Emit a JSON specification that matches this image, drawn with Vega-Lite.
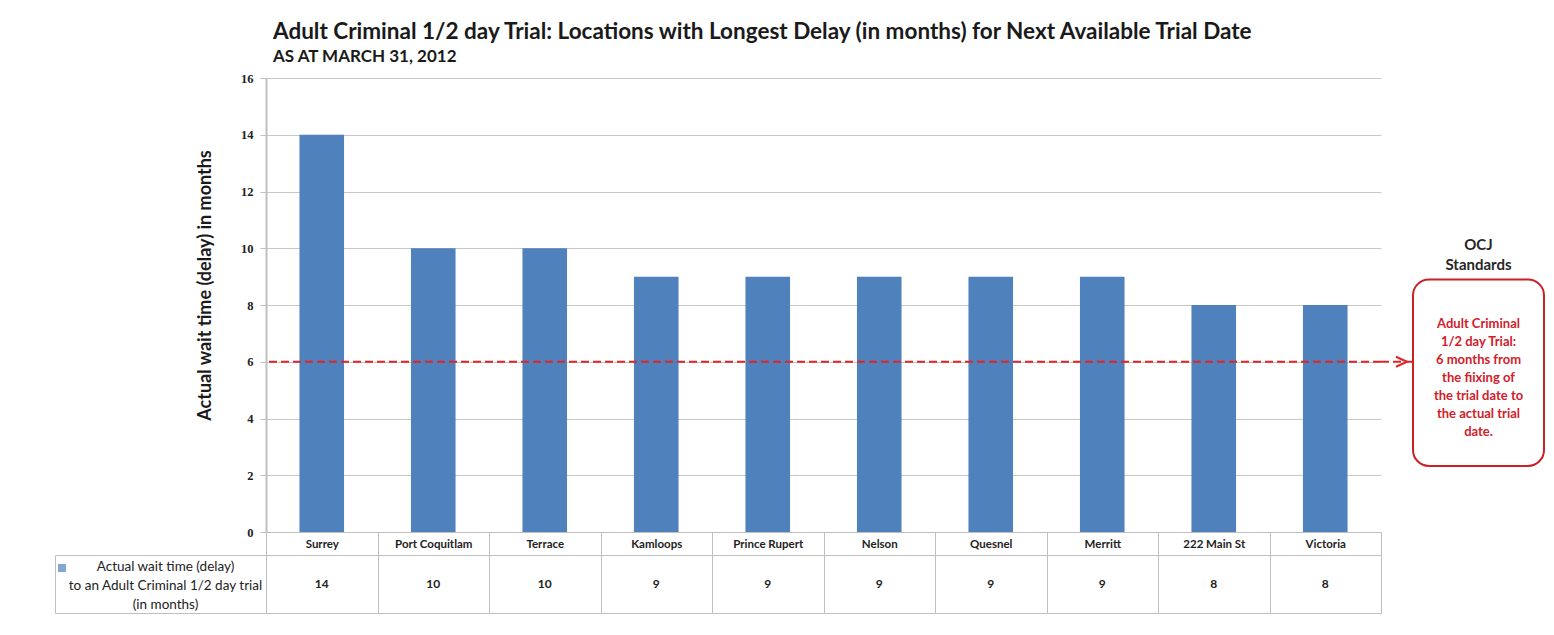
{
  "$schema": "https://vega.github.io/schema/vega-lite/v6.json",
  "padding": {"left": 54, "top": 20, "right": 5, "bottom": 5},
  "background": "white",
  "columns": 4,
  "spacing": {"row": 23, "column": 0},
  "bounds": "flush",
  "resolve": {
    "scale": {"x": "independent", "y": "independent", "color": "independent"},
    "legend": {"color": "independent"}
  },
  "config": {
    "font": "Lato",
    "view": {"stroke": null}
  },
  "datasets": {
    "delays": [
      {"location": "Surrey", "months": 14},
      {"location": "Port Coquitlam", "months": 10},
      {"location": "Terrace", "months": 10},
      {"location": "Kamloops", "months": 9},
      {"location": "Prince Rupert", "months": 9},
      {"location": "Nelson", "months": 9},
      {"location": "Quesnel", "months": 9},
      {"location": "Merritt", "months": 9},
      {"location": "222 Main St", "months": 8},
      {"location": "Victoria", "months": 8}
    ]
  },
  "concat": [
    {
      "width": 211,
      "height": 454,
      "data": {"values": []},
      "mark": "point",
      "encoding": {}
    },
    {
      "width": 1115,
      "height": 454,
      "title": {
        "text": "Adult Criminal 1/2 day Trial: Locations with Longest Delay (in months) for Next Available Trial Date",
        "subtitle": "AS AT MARCH 31, 2012",
        "anchor": "start",
        "frame": "group",
        "dx": 7,
        "font": "Lato",
        "fontSize": 22.5,
        "fontWeight": "bold",
        "color": "#1a1a1a",
        "subtitleFont": "Lato",
        "subtitleFontSize": 17,
        "subtitleFontWeight": "bold",
        "subtitleColor": "#1a1a1a",
        "subtitlePadding": 6,
        "offset": 7
      },
      "layer": [
        {
          "data": {"name": "delays"},
          "mark": {"type": "bar", "color": "#4F81BD", "width": {"band": 0.4}},
          "encoding": {
            "x": {
              "field": "location",
              "type": "nominal",
              "sort": null,
              "scale": {"paddingInner": 0, "paddingOuter": 0},
              "axis": {
                "title": null,
                "labelAngle": 0,
                "domainColor": "#BFBFBF",
                "domainWidth": 1,
                "tickBand": "extent",
                "tickSize": 23,
                "tickColor": "#BFBFBF",
                "labelBaseline": "middle",
                "labelPadding": -11,
                "labelFont": "Lato",
                "labelFontSize": 11.5,
                "labelFontWeight": "bold",
                "labelColor": "#222222",
                "grid": false
              }
            },
            "y": {
              "field": "months",
              "type": "quantitative",
              "scale": {"domain": [0, 16], "nice": false},
              "axis": {
                "title": "Actual wait time (delay) in months",
                "values": [0, 2, 4, 6, 8, 10, 12, 14, 16],
                "grid": true,
                "gridColor": "#C8C8C8",
                "domainColor": "#BFBFBF",
                "domainWidth": 2,
                "tickColor": "#BFBFBF",
                "tickSize": 6,
                "labelPadding": 7,
                "labelFont": "Liberation Serif",
                "labelFontSize": 12.5,
                "labelFontWeight": "bold",
                "labelColor": "#222222",
                "titleFont": "Lato",
                "titleFontSize": 18,
                "titleFontWeight": "bold",
                "titleColor": "#1a1a1a",
                "titleX": -52,
                "titleY": 207
              }
            }
          }
        },
        {
          "data": {"values": [{}]},
          "mark": {"type": "rule", "color": "#E02424", "strokeWidth": 2, "strokeDash": [8, 4]},
          "encoding": {"y": {"datum": 6, "type": "quantitative"}}
        }
      ]
    },
    {
      "width": 32,
      "height": 454,
      "data": {"values": [{}]},
      "layer": [
        {
          "mark": {"type": "rule", "color": "#E02424", "strokeWidth": 2, "strokeDash": [8, 4]},
          "encoding": {
            "y": {"datum": 6, "type": "quantitative", "scale": {"domain": [0, 16], "nice": false}, "axis": null}
          }
        },
        {
          "mark": {"type": "point", "shape": "M-3.4,-1L-1.2,0L-3.4,1", "filled": false, "color": "#E02424", "strokeWidth": 2, "size": 100, "opacity": 1},
          "encoding": {
            "x": {"value": "width"},
            "y": {"datum": 6, "type": "quantitative"}
          }
        }
      ]
    },
    {
      "width": 131,
      "height": 454,
      "data": {"values": [{}]},
      "layer": [
        {
          "mark": {"type": "rect", "fill": "white", "stroke": "#CC1F26", "strokeWidth": 2, "cornerRadius": 16},
          "encoding": {
            "y": {"datum": 8.9, "type": "quantitative", "scale": {"domain": [0, 16], "nice": false}, "axis": null},
            "y2": {"datum": 2.33}
          }
        },
        {
          "mark": {"type": "text", "text": ["OCJ", "Standards"], "font": "Lato", "fontSize": 15, "fontWeight": "bold", "color": "#262626", "lineHeight": 20},
          "encoding": {"y": {"datum": 10.1, "type": "quantitative"}}
        },
        {
          "mark": {
            "type": "text",
            "text": ["Adult Criminal", "1/2 day Trial:", "6 months from", "the fiixing of", "the trial date to", "the actual trial", "date."],
            "font": "Lato",
            "fontSize": 13,
            "fontWeight": "bold",
            "color": "#D2202A",
            "lineHeight": 18
          },
          "encoding": {"y": {"datum": 7.32, "type": "quantitative"}}
        }
      ]
    },
    {
      "width": 211,
      "height": 58,
      "view": {"stroke": "#BFBFBF"},
      "data": {"values": [{"series": "Actual wait time (delay) to an Adult Criminal 1/2 day trial (in months)"}]},
      "layer": [
        {
          "mark": {
            "type": "text",
            "text": ["Actual wait time (delay)", "to an Adult Criminal 1/2 day trial", "(in months)"],
            "font": "Lato",
            "fontSize": 13.5,
            "lineHeight": 19,
            "color": "#222222",
            "dx": 5,
            "dy": -17
          },
          "encoding": {}
        },
        {
          "mark": {"type": "point", "filled": true, "size": 0, "shape": "square"},
          "encoding": {
            "color": {
              "field": "series",
              "type": "nominal",
              "scale": {"range": ["#4F81BD"]},
              "legend": {
                "orient": "none",
                "legendX": 2,
                "legendY": 8,
                "title": null,
                "labelExpr": "''",
                "symbolType": "square",
                "symbolSize": 64,
                "symbolStrokeWidth": 0,
                "padding": 0
              }
            }
          }
        }
      ]
    },
    {
      "width": 1115,
      "height": 58,
      "view": {"stroke": "#BFBFBF"},
      "data": {"name": "delays"},
      "mark": {"type": "text", "font": "Lato", "fontSize": 12, "fontWeight": "bold", "color": "#222222"},
      "encoding": {
        "x": {
          "field": "location",
          "type": "nominal",
          "sort": null,
          "scale": {"paddingInner": 0, "paddingOuter": 0},
          "axis": {
            "title": null,
            "labels": false,
            "ticks": false,
            "domain": false,
            "grid": true,
            "tickBand": "extent",
            "gridColor": "#BFBFBF"
          }
        },
        "text": {"field": "months", "type": "quantitative"}
      }
    }
  ]
}
